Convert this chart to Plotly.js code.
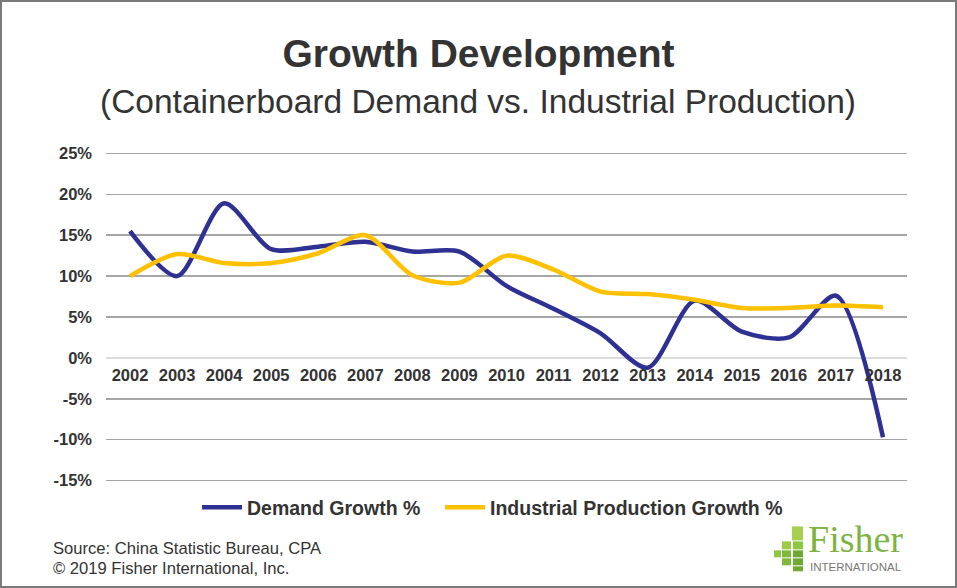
<!DOCTYPE html>
<html><head><meta charset="utf-8">
<script src="https://cdn.plot.ly/plotly-3.0.1.min.js"></script>
<style>
html,body{margin:0;padding:0;background:#fff}
#wrap{position:relative;width:957px;height:588px}
#plot{width:957px;height:588px}
#frame{position:absolute;left:0;top:0;width:957px;height:588px;box-sizing:border-box;border:2px solid #7a7a7a;pointer-events:none}
</style>
</head><body><div id="wrap"><div id="plot"></div><div id="frame"></div></div>
<script>
const years = [2002,2003,2004,2005,2006,2007,2008,2009,2010,2011,2012,2013,2014,2015,2016,2017,2018];
const demandGrowth = [15.5,10.0,18.9,13.3,13.6,14.2,13.0,13.0,8.8,6.0,3.0,-1.2,7.0,3.2,2.5,7.6,-9.7];
const industrialGrowth = [10.0,12.7,11.6,11.6,12.8,15.0,10.1,9.2,12.5,10.8,8.1,7.8,7.1,6.1,6.1,6.4,6.2];
const yTickVals = [-15,-10,-5,0,5,10,15,20,25];
const yTickText = ['-15%','-10%','-5%','0%','5%','10%','15%','20%','25%'];
const xTickText = years.map(String);

const SANS = 'Liberation Sans, Arial, sans-serif';

// plot area in page pixels (y range padded so the edge gridlines are drawn)
const L = 106, R = 907;
const PAD = 0.3, PXU = 328 / 40;          // pixels per y unit
const PT = 153 - PAD * PXU, PB = 481 + PAD * PXU;
const px = p => (p - L) / (R - L);
const py = p => (PB - p) / (PB - PT);

const traces = [
  {x: years, y: demandGrowth, name: 'Demand Growth %', type: 'scatter', mode: 'lines', legend: 'legend',
   line: {color: '#2E3192', width: 4.5, shape: 'spline', smoothing: 0.8}},
  {x: years, y: industrialGrowth, name: 'Industrial Production Growth %', type: 'scatter', mode: 'lines', legend: 'legend2',
   line: {color: '#FFC000', width: 4.5, shape: 'spline', smoothing: 0.8}}
];

const shapes = [];
const blocks = [
  [792,527,803,541,'#a6cf4f'],
  [782,542,791,550,'#9ccb45'],[793,542,803,550,'#8dc63f'],
  [774,551,781,558,'#8dc63f'],[782,551,791,558,'#7fb93a'],[793,551,803,558,'#6fa832'],
  [782,559,791,566,'#7fb93a'],[793,559,803,566,'#6fa832'],
  [793,567,803,572,'#6fa832']
];
blocks.forEach(b => shapes.push({type:'rect', xref:'paper', yref:'paper',
  x0: px(b[0]), x1: px(b[2]), y0: py(b[3]), y1: py(b[1]), fillcolor: b[4], line:{width:0}}));

const legendFont = {family: SANS, size: 19.5, color: '#333333', weight: 'bold'};

const layout = {
  width: 957, height: 588,
  margin: {l: L, r: 957 - R, t: PT, b: 588 - PB},
  paper_bgcolor: '#fff', plot_bgcolor: '#fff',
  showlegend: true,
  title: {text: '<b>Growth Development</b>', x: 0.5, xref: 'container', xanchor: 'center',
          y: 1 - 53/588, yref: 'container', yanchor: 'middle',
          font: {family: SANS, size: 39, color: '#333333'}},
  xaxis: {range: [2001.49, 2018.51], tickvals: years, ticktext: xTickText,
          anchor: 'free', position: (15 + PAD) / (40 + 2 * PAD), showgrid: false, showline: false, zeroline: false,
          ticks: '', ticklabelstandoff: 6,
          tickfont: {family: SANS, size: 16.5, color: '#333333', weight: 'bold'}},
  yaxis: {range: [-15 - PAD, 25 + PAD], tickvals: yTickVals, ticktext: yTickText,
          showgrid: true, gridcolor: '#a6a6a6', gridwidth: 1.5,
          zeroline: true, zerolinecolor: '#dcdcdc', zerolinewidth: 2,
          showline: false, ticks: '', ticklabelstandoff: 13,
          tickfont: {family: SANS, size: 16.5, color: '#333333', weight: 'bold'}},
  legend: {orientation: 'h', x: px(197), xanchor: 'left', y: py(508), yanchor: 'middle',
           font: legendFont, itemwidth: 40},
  legend2: {orientation: 'h', x: px(440), xanchor: 'left', y: py(508), yanchor: 'middle',
           font: legendFont, itemwidth: 40},
  shapes: shapes,
  annotations: [
    {text: '(Containerboard Demand vs. Industrial Production)', xref: 'paper', yref: 'paper',
     x: px(478), y: py(101), xanchor: 'center', yanchor: 'middle', showarrow: false,
     font: {family: SANS, size: 33.5, color: '#333333'}},
    {text: 'Source: China Statistic Bureau, CPA', xref: 'paper', yref: 'paper',
     x: px(51), y: py(549), xanchor: 'left', yanchor: 'middle', showarrow: false,
     font: {family: SANS, size: 16.6, color: '#333333'}},
    {text: '© 2019 Fisher International, Inc.', xref: 'paper', yref: 'paper',
     x: px(51), y: py(569), xanchor: 'left', yanchor: 'middle', showarrow: false,
     font: {family: SANS, size: 16.6, color: '#333333'}},
    {text: 'Fisher', xref: 'paper', yref: 'paper',
     x: px(806), y: py(540), xanchor: 'left', yanchor: 'middle', showarrow: false,
     font: {family: 'Liberation Serif, DejaVu Serif, serif', size: 38, color: '#7cb342'}},
    {text: 'INTERNATIONAL', xref: 'paper', yref: 'paper',
     x: px(808), y: py(568), xanchor: 'left', yanchor: 'middle', showarrow: false,
     font: {family: SANS, size: 11.5, color: '#777777'}}
  ]
};

Plotly.newPlot('plot', traces, layout, {displayModeBar: false, staticPlot: true});
</script>
</body></html>
